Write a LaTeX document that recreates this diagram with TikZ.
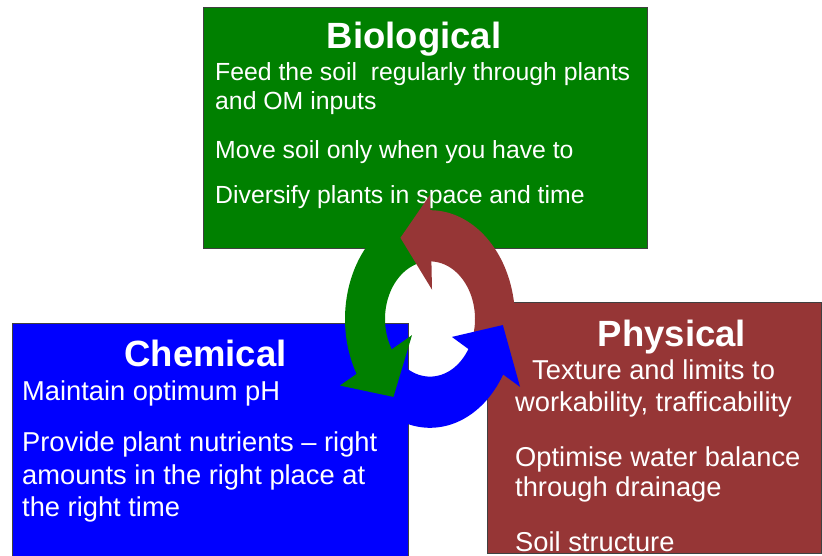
\documentclass[tikz,border=0pt]{standalone}
\usepackage{fontspec}
\setmainfont{Liberation Sans}
\definecolor{biogreen}{RGB}{0,128,0}
\definecolor{chemblue}{RGB}{0,0,255}
\definecolor{physred}{RGB}{150,54,54}
\tikzset{
  boxline/.style={draw=black!75, line width=1pt},
  bodytxt/.style={text=white, inner sep=0pt, anchor=base west, font=\fontsize{27.3}{30}\selectfont},
  biotxt/.style={bodytxt, font=\fontsize{24.8}{28}\selectfont},
  titletxt/.style={text=white, inner sep=0pt, anchor=base, font=\fontsize{36.5}{40}\selectfont\bfseries},
}
\begin{document}
\begin{tikzpicture}[x=1pt,y=-1pt]
\useasboundingbox (0,0) rectangle (822,556);
% boxes
\draw[boxline, fill=biogreen] (203,8) rectangle (647,249);
\draw[boxline, fill=chemblue] (12,323) rectangle (408,562);
\draw[boxline, fill=physred] (487,302) rectangle (821,553);
% texts
\node[titletxt] (biot) at (414,49) {Biological};
\node[biotxt] (bio1) at (215,81) {Feed the soil\ \ regularly through plants};
\node[biotxt] (bio2) at (215,110) {and OM inputs};
\node[biotxt] (bio3) at (215,159) {Move soil only when you have to};
\node[biotxt] (bio4) at (215,204) {Diversify plants in space and time};
\node[titletxt] (chet) at (205.5,366) {Chemical};
\node[bodytxt] (che1) at (22,400) {Maintain optimum pH};
\node[bodytxt] (che2) at (22,451) {Provide plant nutrients – right};
\node[bodytxt] (che3) at (22,484) {amounts in the right place at};
\node[bodytxt] (che4) at (22,516) {the right time};
\node[titletxt] (phyt) at (672,346) {Physical};
\node[bodytxt] (phy1) at (532,379) {Texture and limits to};
\node[bodytxt] (phy2) at (515,411) {workability, trafficability};
\node[bodytxt] (phy3) at (515,466) {Optimise water balance};
\node[bodytxt] (phy4) at (515,496) {through drainage};
\node[bodytxt] (phy5) at (515,551) {Soil structure};
% cycle arrows
\begin{scope}[shift={(430pt,-319pt)}, x={(1pt,0pt)}, y={(0pt,1.28pt)}]
  \fill[biogreen] plot[domain=95:214,samples=60] (\x:85) -- plot[domain=214:95,samples=60] (\x:45) -- cycle;
  \fill[chemblue] plot[domain=218:333,samples=60] (\x:85) -- plot[domain=333:218,samples=60] (\x:45) -- cycle;
  \fill[physred] plot[domain=-28:92,samples=60] (\x:85) -- plot[domain=92:-28,samples=60] (\x:45) -- cycle;
  \fill[biogreen] (210:104) -- (239:71) -- (215:22) -- cycle;
  \fill[chemblue] (-30.5:104.5) -- (-3.7:73) -- (-32.6:26) -- cycle;
  \fill[physred] (90:97) -- (115:70) -- (85:23) -- cycle;
\end{scope}
\end{tikzpicture}
\end{document}
